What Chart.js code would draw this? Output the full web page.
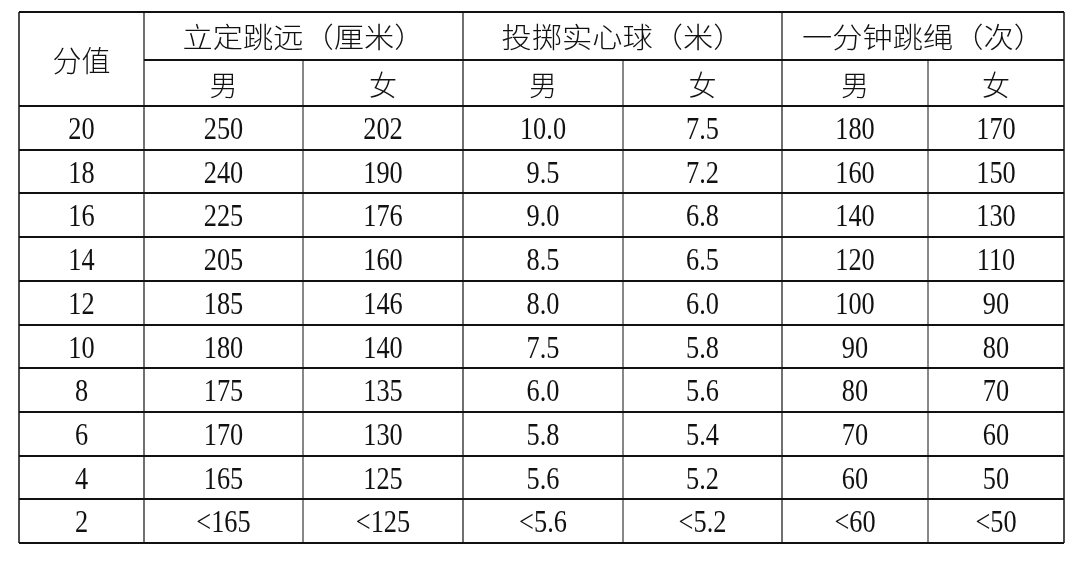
<!DOCTYPE html>
<html><head><meta charset="utf-8">
<script src="https://cdn.jsdelivr.net/npm/chart.js@4/dist/chart.umd.min.js"></script>
<style>html,body{margin:0;background:#fff}</style></head>
<body><canvas id="c" width="1080" height="563"></canvas>
<script>
const groups = ["立定跳远（厘米）","投掷实心球（米）","一分钟跳绳（次）"];
const subHeads = ["男","女","男","女","男","女"];
const scores = ["20","18","16","14","12","10","8","6","4","2"];
const jumpM = ["250","240","225","205","185","180","175","170","165","<165"];
const jumpF = ["202","190","176","160","146","140","135","130","125","<125"];
const ballM = ["10.0","9.5","9.0","8.5","8.0","7.5","6.0","5.8","5.6","<5.6"];
const ballF = ["7.5","7.2","6.8","6.5","6.0","5.8","5.6","5.4","5.2","<5.2"];
const ropeM = ["180","160","140","120","100","90","80","70","60","<60"];
const ropeF = ["170","150","130","110","90","80","70","60","50","<50"];
const cols = [scores, jumpM, jumpF, ballM, ballF, ropeM, ropeF];
// layout (scale units)
const colEdges = [19,144,303,463,623,782,928,1064];
const rowEdges = [12,60,106,150,193,237,281,325,368,412,456,499,543];

const tablePlugin = {
  id:'table',
  afterDraw(chart){
    const ctx = chart.ctx, xs = chart.scales.x, ys = chart.scales.y;
    const X = v=>xs.getPixelForValue(v), Y = v=>ys.getPixelForValue(v);
    ctx.save();
    ctx.strokeStyle='#111';
    const line=(x1,y1,x2,y2,w)=>{ctx.lineWidth=w;ctx.beginPath();ctx.moveTo(X(x1),Y(y1));ctx.lineTo(X(x2),Y(y2));ctx.stroke();};
    const L=colEdges[0], R=colEdges[7];
    line(L,rowEdges[0],R,rowEdges[0],2);
    line(colEdges[1],rowEdges[1],R,rowEdges[1],2);
    for(let i=2;i<rowEdges.length;i++) line(L,rowEdges[i],R,rowEdges[i],2);
    line(L,rowEdges[0],L,rowEdges[12],1.5);
    line(R,rowEdges[0],R,rowEdges[12],1.5);
    [1,3,5].forEach(c=>line(colEdges[c],rowEdges[0],colEdges[c],rowEdges[12],1.2));
    [2,4,6].forEach(c=>line(colEdges[c],rowEdges[1],colEdges[c],rowEdges[12],1));
    ctx.fillStyle='#111'; ctx.textAlign='center'; ctx.textBaseline='middle';
    const cx=c=>(X(colEdges[c])+X(colEdges[c+1]))/2, cy=r=>(Y(rowEdges[r])+Y(rowEdges[r+1]))/2;
    ctx.font='300 29px "Noto Sans CJK SC"';
    ctx.fillText("分值",cx(0),Y((rowEdges[0]+rowEdges[2])/2)+2);
    ctx.font='300 28px "Noto Sans CJK SC"';
    groups.forEach((g,i)=>{
      ctx.save();ctx.translate((X(colEdges[1+2*i])+X(colEdges[3+2*i]))/2,cy(0)+1);ctx.scale(1.08,1);
      ctx.fillText(g,0,0);ctx.restore();});
    subHeads.forEach((s,i)=>ctx.fillText(s,cx(i+1),cy(1)+2));
    ctx.font='31px "Liberation Serif"';
    cols.forEach((col,c)=>col.forEach((v,r)=>{
      ctx.save();ctx.translate(cx(c),cy(r+2)+3);ctx.scale(0.85,1);ctx.fillText(v,0,0);ctx.restore();
    }));
    ctx.restore();
  }
};
new Chart(document.getElementById('c'),{
  type:'scatter',
  data:{datasets:[{data:[],pointRadius:0}]},
  options:{responsive:false,animation:false,events:[],
    layout:{padding:0},
    plugins:{legend:{display:false},tooltip:{enabled:false}},
    scales:{x:{type:'linear',min:0,max:1080,display:false},
            y:{type:'linear',min:0,max:563,reverse:true,display:false}}},
  plugins:[tablePlugin]
});
</script></body></html>
